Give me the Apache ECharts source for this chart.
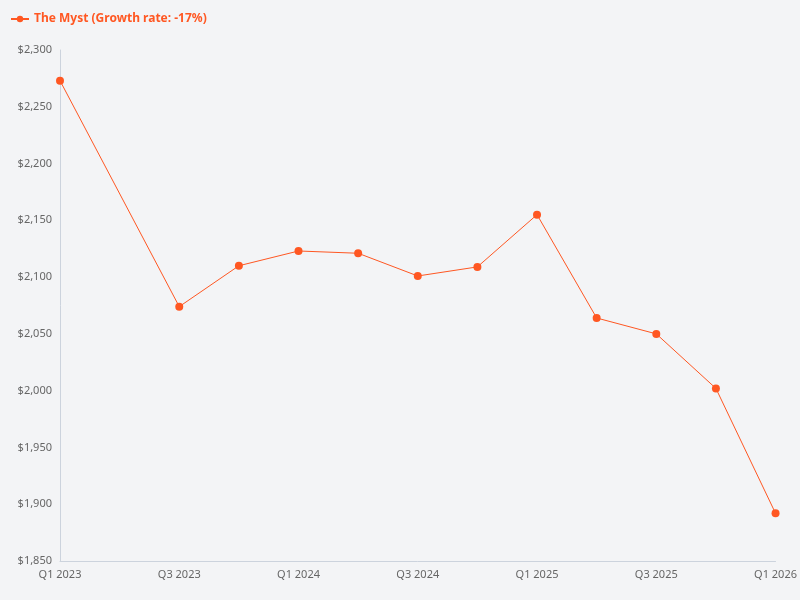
<!DOCTYPE html>
<html>
<head>
<meta charset="utf-8">
<script src="https://cdn.jsdelivr.net/npm/echarts@6/dist/echarts.min.js"></script>
<style>html,body{margin:0;background:#f3f4f6;}#chart{width:800px;height:600px;}</style>
</head>
<body>
<div id="chart"></div>
<script>
// quarterly values, Q2 2023 missing in source
const categories = ['Q1 2023','Q2 2023','Q3 2023','Q4 2023','Q1 2024','Q2 2024','Q3 2024','Q4 2024','Q1 2025','Q2 2025','Q3 2025','Q4 2025','Q1 2026'];
const values = [2273, null, 2074, 2110, 2123, 2121, 2101, 2109, 2155, 2064, 2050, 2002, 1892];
const seriesName = 'The Myst (Growth rate: -17%)';

const chart = echarts.init(document.getElementById('chart'));
chart.setOption({
  backgroundColor: '#f3f4f6',
  textStyle: { fontFamily: 'Noto Sans' },
  legend: {
    left: 5, top: 8, itemWidth: 18, itemHeight: 8,
    textStyle: { color: '#ff5722', fontWeight: 'bold', fontSize: 12 }
  },
  grid: { left: 60, right: 23, top: 50, bottom: 39 },
  xAxis: {
    type: 'category', data: categories, boundaryGap: false,
    axisLine: { lineStyle: { color: '#ccd3dd' } },
    axisTick: { show: false },
    axisLabel: { interval: 1, color: '#666', fontSize: 11 }
  },
  yAxis: {
    type: 'value', min: 1850, max: 2300, interval: 50,
    axisLine: { show: true, lineStyle: { color: '#ccd3dd' } },
    splitLine: { show: false },
    axisLabel: { color: '#666', fontSize: 11, formatter: v => '$' + v.toLocaleString('en-US') }
  },
  series: [{
    name: seriesName, type: 'line', data: values, connectNulls: true,
    symbol: 'circle', symbolSize: 8,
    itemStyle: { color: '#ff5722' },
    lineStyle: { width: 1, color: '#ff5722' }
  }]
});
</script>
</body>
</html>
